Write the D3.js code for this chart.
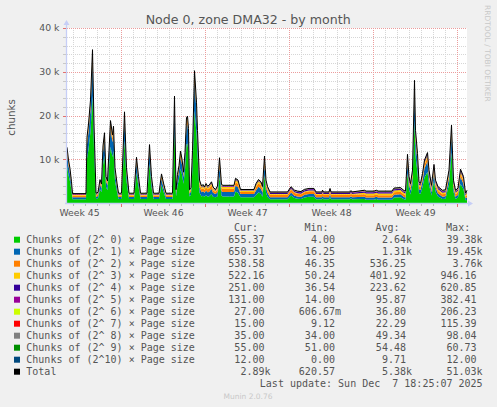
<!DOCTYPE html>
<html><head><meta charset="utf-8">
<script src="https://cdn.jsdelivr.net/npm/d3@7"></script>
<style>html,body{margin:0;padding:0;background:#F0F0F0;overflow:hidden}svg{display:block}</style>
</head><body>
<svg id="c" width="497" height="407"></svg>
<script>
// ---------- data (values in thousands of chunks) ----------
const startTime = "2025-11-04T12:00:00Z";
const endTime   = "2025-12-07T20:00:00Z";
// sample times: hours after startTime
const hours = [0,3,6,9,11,38,40,43,47,51,54,58,62,66,69,72,75,78,81,84,87,91,93,96,100,103,109,115,119,124,134,139,143,147,160,165,169,173,184,189,193,198,211,215,218,221,224,227,230,233,236,239,241,243,245,248,251,255,259,261,
265,269,272,275,278,281,284,289,292,297,301,305,309,312,334,337,342,347,374,378,383,388,391,395,398,401,
406,441,448,455,461,468,475,484,494,498,510,511,513,524,526,528,566,568,570,
595,598,614,619,622,650,654,667,674,677,681,684,687,691,695,697,701,704,707,711,715,721,724,729,734,737,742,751,757,764,769,773,777,782,787,793,797,800];

const s0 = [8.48,6.39,4.95,2.79,.85,.85,10.14,12.3,16.26,24.54,
12.3,.92,1.07,3.15,2.43,8.7,10.86,3.66,2.94,7.98,
12.87,10.5,11.94,5.1,2.58,.92,.92,14.31,5.1,.92,
.92,6.83,3.66,.92,.92,8.91,3.66,.92,.92,4.09,
2.58,.92,.92,16.91,1.5,4.02,5.46,7.83,6.54,4.38,
7.62,13.38,13.59,11.58,1.5,1.86,7.98,21.08,15.9,11.22,
2.36,1.47,1.64,1.42,1.79,1.47,1.5,2.08,1.42,1.3,
1.47,6.04,1.64,1.5,1.5,2.65,2.36,1.3,1.3,1.79,
2.44,2.08,1.44,6.32,2.36,1.44,
.85,.85,1.71,1.14,.99,.92,1.28,1.43,1.43,.85,
.85,1.14,.85,.85,1.43,.85,.85,1.07,.85,
.89,.75,.75,.89,.75,.75,1.25,1.33,.84,.75,
6.8,3.13,1.97,4.21,18.97,10.76,6.94,2.26,2.05,3.63,
5.86,7.09,4.21,1.69,5.14,2.55,1.47,.89,.97,4.21,
11.62,2.55,.89,1.25,4.35,3.13,.65,.66];

const s1 = [2.78,2.14,1.7,1.04,.45,.45,3.29,3.95,5.16,7.69,
3.95,.47,.52,1.15,.93,2.85,3.51,1.31,1.09,2.63,
4.12,3.4,3.84,1.75,.98,.47,.47,4.56,1.75,.47,
.47,2.28,1.31,.47,.47,2.91,1.31,.47,.47,1.44,
.98,.47,.47,5.36,.65,1.42,1.86,2.58,2.19,1.53,
2.52,4.28,4.34,3.73,.65,.76,2.63,6.63,5.05,3.62,
1.26,.96,1.04,.9,1.09,.96,1,1.18,.9,.75,
.96,2.39,1.04,1,1,1.35,1.26,.75,.75,1.09,
1.29,1.18,.93,2.47,1.26,.93,
.45,.45,.71,.54,.49,.47,.58,.63,.63,.45,
.45,.54,.45,.45,.63,.45,.45,.52,.45,
.54,.5,.5,.54,.5,.5,.65,.68,.53,.5,
2.35,1.23,.87,1.56,6.07,3.56,2.39,.96,.9,1.38,
2.06,2.44,1.56,.79,1.84,1.05,.72,.54,.57,1.56,
3.82,1.05,.54,.65,1.6,1.23,.41,.65];

const s2 = [.77,.66,.58,.46,.35,.35,.87,.99,1.21,1.67,
.99,.35,.36,.48,.44,.79,.91,.51,.47,.75,
1.02,.89,.97,.59,.45,.35,.35,1.1,.59,.35,
.35,.68,.51,.35,.35,.8,.51,.35,.35,.53,
.45,.35,.35,1.24,.39,.53,.61,.74,.67,.55,
.73,1.05,1.06,.95,.39,.41,.75,1.47,1.19,.93,
.8,.7,.76,.64,.77,.7,.75,.78,.64,.47,
.7,1,.76,.75,.75,.81,.8,.47,.47,.77,
.8,.78,.67,1.02,.8,.67,
.6,.6,.65,.62,.61,.6,.62,.63,.63,.6,
.6,.62,.6,.6,.63,.6,.6,.61,.6,
.56,.55,.55,.56,.55,.55,.58,.58,.55,.55,
.89,.68,.62,.74,1.56,1.11,.89,.63,.62,.71,
.83,.9,.74,.6,.79,.65,.59,.56,.56,.74,
1.15,.65,.56,.58,.75,.68,.45,.54];

const s3 = [.33,.29,.26,.21,.17,.17,.36,.41,.49,.66,
.41,.17,.17,.22,.2,.33,.38,.23,.21,.32,
.42,.37,.4,.26,.21,.17,.17,.45,.26,.17,
.17,.29,.23,.17,.17,.34,.23,.17,.17,.24,
.21,.17,.17,.5,.18,.24,.27,.32,.29,.24,
.31,.43,.44,.39,.18,.19,.32,.59,.48,.39,
.42,.37,.4,.34,.41,.37,.4,.41,.34,.25,
.37,.49,.4,.4,.4,.42,.42,.25,.25,.41,
.42,.41,.36,.5,.42,.36,
.15,.15,.17,.16,.15,.15,.16,.16,.16,.15,
.15,.16,.15,.15,.16,.15,.15,.15,.15,
.35,.35,.35,.35,.35,.35,.36,.36,.35,.35,
.48,.4,.38,.42,.73,.56,.48,.38,.38,.41,
.46,.48,.42,.37,.44,.39,.37,.35,.35,.42,
.58,.39,.35,.36,.43,.4,.26,.52];

const s4 = [.15,.14,.13,.11,.1,.1,.16,.18,.21,.26,
.18,.1,.1,.12,.11,.15,.17,.12,.11,.15,
.18,.17,.18,.13,.11,.1,.1,.19,.13,.1,
.1,.14,.12,.1,.1,.16,.12,.1,.1,.12,
.11,.1,.1,.21,.1,.12,.13,.15,.14,.12,
.15,.19,.19,.17,.1,.11,.15,.24,.2,.17,
.16,.14,.15,.13,.15,.14,.15,.15,.13,.1,
.14,.18,.15,.15,.15,.16,.16,.1,.1,.15,
.16,.15,.14,.18,.16,.14,
.3,.3,.31,.3,.3,.3,.3,.3,.3,.3,
.3,.3,.3,.3,.3,.3,.3,.3,.3,
.3,.3,.3,.3,.3,.3,.3,.3,.3,.3,
.34,.32,.31,.32,.43,.37,.34,.31,.31,.32,
.34,.34,.32,.31,.33,.31,.31,.3,.3,.32,
.38,.31,.3,.3,.33,.32,.24,.25];

const s5 = [.06,.06,.06,.06,.06,.06,.06,.06,.06,.06,
.06,.06,.06,.06,.06,.06,.06,.06,.06,.06,
.06,.06,.06,.06,.06,.06,.06,.06,.06,.06,
.06,.06,.06,.06,.06,.06,.06,.06,.06,.06,
.06,.06,.06,.06,.06,.06,.06,.06,.06,.06,
.06,.06,.06,.06,.06,.06,.06,.06,.06,.06,
.08,.08,.08,.07,.08,.08,.08,.08,.07,.05,
.08,.08,.08,.08,.08,.08,.08,.05,.05,.08,
.08,.08,.07,.08,.08,.07,
.05,.05,.05,.05,.05,.05,.05,.05,.05,.05,
.05,.05,.05,.05,.05,.05,.05,.05,.05,
.13,.13,.13,.13,.13,.13,.13,.13,.13,.13,
.13,.13,.13,.13,.13,.13,.13,.13,.13,.13,
.13,.13,.13,.13,.13,.13,.13,.13,.13,.13,
.13,.13,.13,.13,.13,.13,.11,.13];

const s6 = [.04,.04,.04,.04,.04,.04,.04,.04,.04,.04,
.04,.04,.04,.04,.04,.04,.04,.04,.04,.04,
.04,.04,.04,.04,.04,.04,.04,.04,.04,.04,
.04,.04,.04,.04,.04,.04,.04,.04,.04,.04,
.04,.04,.04,.04,.04,.04,.04,.04,.04,.04,
.04,.04,.04,.04,.04,.04,.04,.04,.04,.04,
.04,.04,.04,.04,.04,.04,.04,.04,.04,.04,
.04,.04,.04,.04,.04,.04,.04,.04,.04,.04,
.04,.04,.04,.04,.04,.04,
.02,.02,.02,.02,.02,.02,.02,.02,.02,.02,
.02,.02,.02,.02,.02,.02,.02,.02,.02,
.027,.027,.027,.027,.027,.027,.027,.027,.027,.027,
.027,.027,.027,.027,.027,.027,.027,.027,.027,.027,
.027,.027,.027,.027,.027,.027,.027,.027,.027,.027,
.027,.027,.027,.027,.027,.027,.027,.027];

const s7 = [.02,.02,.02,.02,.02,.02,.02,.02,.02,.02,
.02,.02,.02,.02,.02,.02,.02,.02,.02,.02,
.02,.02,.02,.02,.02,.02,.02,.02,.02,.02,
.02,.02,.02,.02,.02,.02,.02,.02,.02,.02,
.02,.02,.02,.02,.02,.02,.02,.02,.02,.02,
.02,.02,.02,.02,.02,.02,.02,.02,.02,.02,
.02,.02,.02,.02,.02,.02,.02,.02,.02,.02,
.02,.02,.02,.02,.02,.02,.02,.02,.02,.02,
.02,.02,.02,.02,.02,.02,
.015,.015,.015,.015,.015,.015,.015,.015,.015,.015,
.015,.015,.015,.015,.015,.015,.015,.015,.015,
.015,.015,.015,.015,.015,.015,.015,.015,.015,.015,
.015,.015,.015,.015,.015,.015,.015,.015,.015,.015,
.015,.015,.015,.015,.015,.015,.015,.015,.015,.015,
.015,.015,.015,.015,.015,.015,.015,.015];

const s8 = [.04,.04,.04,.04,.04,.04,.04,.04,.04,.04,
.04,.04,.04,.04,.04,.04,.04,.04,.04,.04,
.04,.04,.04,.04,.04,.04,.04,.04,.04,.04,
.04,.04,.04,.04,.04,.04,.04,.04,.04,.04,
.04,.04,.04,.04,.04,.04,.04,.04,.04,.04,
.04,.04,.04,.04,.04,.04,.04,.04,.04,.04,
.04,.04,.04,.04,.04,.04,.04,.04,.04,.04,
.04,.04,.04,.04,.04,.04,.04,.04,.04,.04,
.04,.04,.04,.04,.04,.04,
.035,.035,.035,.035,.035,.035,.035,.035,.035,.035,
.035,.035,.035,.035,.035,.035,.035,.035,.035,
.035,.035,.035,.035,.035,.035,.035,.035,.035,.035,
.035,.035,.035,.035,.035,.035,.035,.035,.035,.035,
.035,.035,.035,.035,.035,.035,.035,.035,.035,.035,
.035,.035,.035,.035,.035,.035,.035,.035];

const s9 = [.055,.055,.055,.055,.055,.055,.055,.055,.055,.055,
.055,.055,.055,.055,.055,.055,.055,.055,.055,.055,
.055,.055,.055,.055,.055,.055,.055,.055,.055,.055,
.055,.055,.055,.055,.055,.055,.055,.055,.055,.055,
.055,.055,.055,.055,.055,.055,.055,.055,.055,.055,
.055,.055,.055,.055,.055,.055,.055,.055,.055,.055,
.055,.055,.055,.055,.055,.055,.055,.055,.055,.055,
.055,.055,.055,.055,.055,.055,.055,.055,.055,.055,
.055,.055,.055,.055,.055,.055,
.052,.052,.052,.052,.052,.052,.052,.052,.052,.052,
.052,.052,.052,.052,.052,.052,.052,.052,.052,
.055,.055,.055,.055,.055,.055,.055,.055,.055,.055,
.055,.055,.055,.055,.055,.055,.055,.055,.055,.055,
.055,.055,.055,.055,.055,.055,.055,.055,.055,.055,
.055,.055,.055,.055,.055,.055,.055,.055];

const s10 = [.012,.012,.012,.012,.012,.012,.012,.012,.012,.012,
.012,.012,.012,.012,.012,.012,.012,.012,.012,.012,
.012,.012,.012,.012,.012,.012,.012,.012,.012,.012,
.012,.012,.012,.012,.012,.012,.012,.012,.012,.012,
.012,.012,.012,.012,.012,.012,.012,.012,.012,.012,
.012,.012,.012,.012,.012,.012,.012,.012,.012,.012,
.01,.01,.01,.01,.01,.01,.01,.01,.01,.01,
.01,.01,.01,.01,.01,.01,.01,.01,.01,.01,
.01,.01,.01,.01,.01,.01,
.01,.01,.01,.01,.01,.01,.01,.01,.01,.01,
.01,.01,.01,.01,.01,.01,.01,.01,.01,
.012,.012,.012,.012,.012,.012,.012,.012,.012,.012,
.012,.012,.012,.012,.012,.012,.012,.012,.012,.012,
.012,.012,.012,.012,.012,.012,.012,.012,.012,.012,
.012,.012,.012,.012,.012,.012,.012,.012];

const seriesNames = ["Chunks of (2^ 0) × Page size","Chunks of (2^ 1) × Page size","Chunks of (2^ 2) × Page size","Chunks of (2^ 3) × Page size","Chunks of (2^ 4) × Page size","Chunks of (2^ 5) × Page size","Chunks of (2^ 6) × Page size","Chunks of (2^ 7) × Page size","Chunks of (2^ 8) × Page size","Chunks of (2^ 9) × Page size","Chunks of (2^10) × Page size","Total"];
const seriesColors = ["#00CC00","#0066B3","#FF8000","#FFCC00","#330099","#990099","#CCFF00","#FF0000","#808080","#008F00","#00487D","#000000"];
const legendCur = ["655.37","650.31","538.58","522.16","251.00","131.00","27.00","15.00","35.00","55.00","12.00","2.89k"];
const legendMin = ["4.00","16.25","46.35","50.24","36.54","14.00","606.67m","9.12","34.00","51.00","0.00","620.57"];
const legendAvg = ["2.64k","1.31k","536.25","401.92","223.62","95.87","36.80","22.29","49.34","54.48","9.71","5.38k"];
const legendMax = ["39.38k","19.45k","3.76k","946.16","620.85","382.41","206.23","115.39","98.04","60.73","12.00","51.03k"];
const legendHeaders = ["Cur:","Min:","Avg:","Max:"];
const yTickValues = [10,20,30,40];
const yTickLabels = ["10 k","20 k","30 k","40 k"];
const weekLabelTimes = ["2025-11-05T12:00:00Z","2025-11-12T12:00:00Z","2025-11-19T12:00:00Z","2025-11-26T12:00:00Z","2025-12-03T12:00:00Z"];
const weekLabels = ["Week 45","Week 46","Week 47","Week 48","Week 49"];
const titleText = "Node 0, zone DMA32 - by month";
const yLabel = "chunks";
const lastUpdate = "Last update: Sun Dec  7 18:25:07 2025";
const credit = "RRDTOOL / TOBI OETIKER";
const version = "Munin 2.0.76";

// ---------- drawing ----------
const allSeries = [s0,s1,s2,s3,s4,s5,s6,s7,s8,s9,s10];
const keys = allSeries.map((_, i) => "s" + i);
const t0 = new Date(startTime), t1 = new Date(endTime);
const rows = hours.map((h, i) => {
  const r = { t: new Date(t0.getTime() + h * 3600e3) };
  allSeries.forEach((a, k) => r[keys[k]] = a[i]);
  return r;
});

const svg = d3.select("#c");
const SANS = "'DejaVu Sans', sans-serif", MONO = "'DejaVu Sans Mono', monospace";
const FONT = "#555555";

const x = d3.scaleUtc().domain([t0, t1]).range([67, 467]);
const y = d3.scaleLinear().domain([0, 40]).range([203, 28]);
const [X0, X1] = x.range(), [Y0, Y1] = y.range();

svg.append("rect").attr("width", 497).attr("height", 407).attr("fill", "#F0F0F0");
svg.append("rect").attr("x", X0).attr("y", Y1).attr("width", X1 - X0).attr("height", Y0 - Y1).attr("fill", "#FFFFFF");

// grid
const grid = svg.append("g").attr("shape-rendering", "crispEdges");
const days = d3.utcDay.range(d3.utcDay.ceil(t0), t1);
const hv = d3.range(2, 41, 2);
const isMajorDay = d => d.getUTCDay() === 0;
const isMajorVal = v => v % 10 === 0;
grid.selectAll(".vmin").data(days.filter(d => !isMajorDay(d))).join("line")
  .attr("x1", d => Math.round(x(d)) + .5).attr("x2", d => Math.round(x(d)) + .5)
  .attr("y1", Y1).attr("y2", Y0).attr("stroke", "#d6d6d6").attr("stroke-dasharray", "1,1");
grid.selectAll(".hmin").data(hv.filter(v => !isMajorVal(v))).join("line")
  .attr("x1", X0).attr("x2", X1).attr("y1", v => Math.round(y(v)) + .5).attr("y2", v => Math.round(y(v)) + .5)
  .attr("stroke", "#d6d6d6").attr("stroke-dasharray", "1,1");
grid.selectAll(".vmaj").data(days.filter(isMajorDay)).join("line")
  .attr("x1", d => Math.round(x(d)) + .5).attr("x2", d => Math.round(x(d)) + .5)
  .attr("y1", Y1).attr("y2", Y0).attr("stroke", "#eb9c9c").attr("stroke-dasharray", "1,1");
grid.selectAll(".hmaj").data(hv.filter(isMajorVal)).join("line")
  .attr("x1", X0).attr("x2", X1).attr("y1", v => Math.round(y(v)) + .5).attr("y2", v => Math.round(y(v)) + .5)
  .attr("stroke", "#eb9c9c").attr("stroke-dasharray", "1,1");

// stacked areas
const stacked = d3.stack().keys(keys)(rows);
const area = d3.area().x(d => x(d.data.t)).y0(d => y(d[0])).y1(d => y(d[1]));
svg.append("g").selectAll("path").data(stacked).join("path")
  .attr("d", area).attr("fill", (d, i) => seriesColors[i]);
const totalLine = d3.line().x(d => x(d.t)).y(d => y(d3.sum(keys, k => d[k])));
svg.append("path").datum(rows).attr("d", totalLine).attr("fill", "none")
  .attr("stroke", "#000").attr("stroke-width", 1).attr("stroke-linejoin", "round");

// axes lines + arrows
const AX = "#C6CEF6";
const ax = svg.append("g");
ax.append("line").attr("x1", X0 - .5).attr("x2", X0 - .5).attr("y1", Y0 + 1).attr("y2", Y1 - 5)
  .attr("stroke", AX).attr("stroke-width", 1.3);
ax.append("line").attr("x1", X0 - 2).attr("x2", X1 + 3).attr("y1", Y0 + .5).attr("y2", Y0 + .5)
  .attr("stroke", AX).attr("stroke-width", 1.3);
ax.append("path").attr("d", `M${X0 - 3.5},${Y1 - 3}L${X0 + 2.5},${Y1 - 3}L${X0 - .5},${Y1 - 8}Z`).attr("fill", AX);
ax.append("path").attr("d", `M${X1 + 1},${Y0 - 2.5}L${X1 + 1},${Y0 + 3.5}L${X1 + 6},${Y0 + .5}Z`).attr("fill", AX);

// ticks on axes
const tk = svg.append("g").attr("shape-rendering", "crispEdges");
tk.selectAll(".xt").data(days).join("line")
  .attr("x1", d => Math.round(x(d)) + .5).attr("x2", d => Math.round(x(d)) + .5)
  .attr("y1", Y0 + 1).attr("y2", d => isMajorDay(d) ? Y0 + 4 : Y0 + 3)
  .attr("stroke", d => isMajorDay(d) ? "#e07070" : "#b8b8b8");
tk.selectAll(".yt").data(hv).join("line")
  .attr("x1", X0 - 4).attr("x2", X0 - 1)
  .attr("y1", v => Math.round(y(v)) + .5).attr("y2", v => Math.round(y(v)) + .5)
  .attr("stroke", v => isMajorVal(v) ? "#e07070" : "#c8c8c8");

// tick labels
const yAxis = d3.axisLeft(y).tickValues(yTickValues).tickFormat((d, i) => yTickLabels[i]).tickSize(0).tickPadding(0);
const gy = svg.append("g").attr("transform", `translate(${X0 - 7.5},0)`).call(yAxis);
gy.select(".domain").remove();
gy.selectAll("text").attr("font-family", SANS).attr("font-size", 9.3).attr("fill", FONT);

const xAxis = d3.axisBottom(x).tickValues(weekLabelTimes.map(s => new Date(s))).tickFormat((d, i) => weekLabels[i]).tickSize(0).tickPadding(0);
const gx = svg.append("g").attr("transform", `translate(0,${Y0 + 6.2})`).call(xAxis);
gx.select(".domain").remove();
gx.selectAll("text").attr("font-family", SANS).attr("font-size", 9.3).attr("fill", FONT);

// title & labels
svg.append("text").attr("x", 248.2).attr("y", 23.7).attr("text-anchor", "middle")
  .attr("font-family", SANS).attr("font-size", 12.6).attr("fill", FONT).text(titleText);
svg.append("text").attr("transform", `translate(15,${(Y0 + Y1) / 2 + 2}) rotate(-90)`).attr("text-anchor", "middle")
  .attr("font-family", SANS).attr("font-size", 10.3).attr("fill", FONT).text(yLabel);
svg.append("text").attr("transform", "translate(485,5) rotate(90)").attr("text-anchor", "start")
  .attr("font-family", SANS).attr("font-size", 7.5).attr("fill", "#c8c8c8").text(credit);

// legend
const CH = 6.02;
const colEdge = [270.5, 341, 412, 482.6];
const lg = svg.append("g").attr("font-family", MONO).attr("font-size", 10).attr("fill", FONT);
legendHeaders.forEach((h, i) => lg.append("text").attr("x", colEdge[i] - 12.4).attr("y", 231).attr("text-anchor", "end").text(h));
const cols = [legendCur, legendMin, legendAvg, legendMax];
seriesNames.forEach((name, r) => {
  const by = 243.3 + 12 * r;
  lg.append("rect").attr("x", 14).attr("y", by - 6.6).attr("width", 6).attr("height", 6).attr("fill", seriesColors[r]);
  lg.append("text").attr("x", 26.3).attr("y", by).attr("xml:space", "preserve").style("white-space", "pre").text(name);
  cols.forEach((col, c) => {
    const v = col[r];
    const hasSuffix = /[a-zA-Z]$/.test(v);
    lg.append("text").attr("x", colEdge[c] - (hasSuffix ? 0 : CH)).attr("y", by).attr("text-anchor", "end").text(v);
  });
});
lg.append("text").attr("x", 482.6).attr("y", 387.3).attr("text-anchor", "end")
  .attr("xml:space", "preserve").style("white-space", "pre").text(lastUpdate);
svg.append("text").attr("x", 248).attr("y", 398.8).attr("text-anchor", "middle")
  .attr("font-family", SANS).attr("font-size", 7.5).attr("fill", "#c8c8c8").text(version);
</script>
</body></html>
